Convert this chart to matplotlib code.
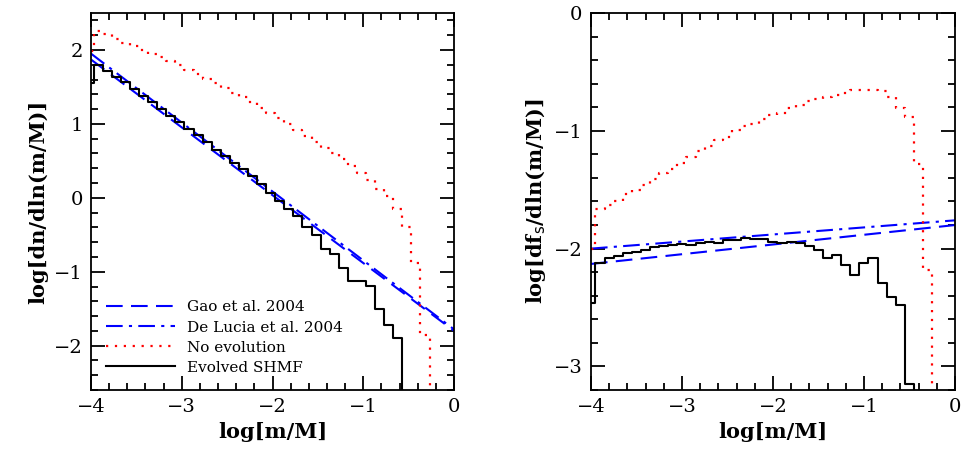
import numpy as np
import matplotlib
matplotlib.use("Agg")
import matplotlib.pyplot as plt
from matplotlib.ticker import MultipleLocator

plt.rcParams['font.family'] = ['DejaVu Serif']

# ---- data ----
# left panel: log dn/dln(m/M), 0.1-dex bins
left_start_edge = -3.97
left_evolved_first = 1.55
left_evolved = [1.80, 1.71, 1.64, 1.56, 1.47, 1.38, 1.30, 1.20, 1.11, 1.02, 0.93, 0.85,
                0.76, 0.65, 0.56, 0.47, 0.39, 0.29, 0.18, 0.06, -0.05, -0.15, -0.25,
                -0.39, -0.51, -0.69, -0.76, -0.95, -1.13, -1.13, -1.19, -1.50, -1.72, -1.90]
left_noevo_first = 1.98
left_noevo = [2.25, 2.22, 2.15, 2.10, 2.05, 2.00, 1.95, 1.90, 1.85, 1.79, 1.73, 1.67, 1.61,
              1.55, 1.49, 1.42, 1.36, 1.29, 1.22, 1.15, 1.08, 1.00, 0.92, 0.84, 0.76, 0.68,
              0.60, 0.52, 0.43, 0.34, 0.24, 0.12, 0.02, -0.15, -0.39, -0.88, -1.85]
# right panel: log dfs/dln(m/M)
right_start_edge = -3.95
right_evolved_first = -2.46
right_evolved = [-2.12, -2.08, -2.06, -2.04, -2.03, -2.01, -1.99, -1.98, -1.97, -1.96, -1.97,
                 -1.95, -1.94, -1.95, -1.93, -1.93, -1.91, -1.92, -1.92, -1.94, -1.95, -1.94,
                 -1.95, -1.98, -2.01, -2.08, -2.05, -2.14, -2.22, -2.12, -2.08, -2.29, -2.41,
                 -2.48, -3.15]
right_noevo_first = -2.0
right_noevo = [-1.66, -1.63, -1.60, -1.54, -1.50, -1.46, -1.41, -1.36, -1.32, -1.27, -1.22,
               -1.17, -1.13, -1.08, -1.05, -0.99, -0.96, -0.94, -0.90, -0.87, -0.85, -0.81,
               -0.78, -0.75, -0.73, -0.71, -0.70, -0.68, -0.65, -0.65, -0.65, -0.66, -0.71,
               -0.81, -0.88, -1.28, -2.18]
# power-law fits: value at log(m/M)=-4 and at 0
gao_left = (1.87, -1.80)
delucia_left = (1.95, -1.78)
gao_right = (-2.13, -1.80)
delucia_right = (-2.00, -1.76)

labels = ["Gao et al. 2004", "De Lucia et al. 2004", "No evolution", "Evolved SHMF"]


def steps(start, first, vals, floor):
    edges = start + 0.1 * np.arange(len(vals) + 1)
    x = np.concatenate([[-4.0], edges, [edges[-1]]])
    y = np.concatenate([[first], vals, [vals[-1]], [floor]])
    x = np.concatenate([x[:-1], [edges[-1]]])
    return x, y[:len(x)]


def style(ax, ylim, ymaj, ymin):
    ax.set_xlim(-4, 0)
    ax.set_ylim(*ylim)
    ax.xaxis.set_major_locator(MultipleLocator(1))
    ax.xaxis.set_minor_locator(MultipleLocator(0.2))
    ax.yaxis.set_major_locator(MultipleLocator(ymaj))
    ax.yaxis.set_minor_locator(MultipleLocator(ymin))
    ax.tick_params(which='both', direction='in', top=True, right=True, labelsize=14, width=1.3)
    ax.tick_params(which='major', length=10, pad=6)
    ax.tick_params(which='minor', length=5)
    for s in ax.spines.values():
        s.set_linewidth(1.3)
    ax.set_xlabel("log[m/M]", fontsize=15, fontweight='bold')


fig = plt.figure(figsize=(9.64, 4.57), dpi=100)
axL = fig.add_axes([0.0944, 0.1466, 0.3766, 0.825])
axR = fig.add_axes([0.613, 0.1466, 0.3776, 0.825])

xl = np.array([-4.0, 0.0])
for ax, gao, dl, ev, ne, ylim, floor in [
        (axL, gao_left, delucia_left,
         (left_start_edge, left_evolved_first, left_evolved),
         (left_start_edge, left_noevo_first, left_noevo), (-2.6, 2.5), -3.0),
        (axR, gao_right, delucia_right,
         (right_start_edge, right_evolved_first, right_evolved),
         (right_start_edge, right_noevo_first, right_noevo), (-3.2, 0.0), -3.5)]:
    ax.plot(xl, gao, color='blue', lw=1.5, ls=(0, (8, 4)), label=labels[0])
    ax.plot(xl, dl, color='blue', lw=1.5, ls=(0, (8, 3, 1.5, 3)), label=labels[1])
    x, y = steps(ne[0], ne[1], ne[2], floor)
    ax.step(x, y, where='post', color='red', lw=1.6, ls=(0, (1, 3)), label=labels[2])
    x, y = steps(ev[0], ev[1], ev[2], floor)
    ax.step(x, y, where='post', color='black', lw=1.5, label=labels[3])

style(axL, (-2.6, 2.5), 1, 0.2)
style(axR, (-3.2, 0.0), 1, 0.2)
axL.set_ylabel("log[dn/dln(m/M)]", fontsize=15, fontweight='bold')
axR.set_ylabel(r"log[df$_{\rm s}$/dln(m/M)]", fontsize=15, fontweight='bold')
axL.legend(loc='lower left', frameon=False, fontsize=11, handlelength=4.5,
           borderaxespad=0.6, labelspacing=0.4)

fig.savefig("out.png", dpi=100)
